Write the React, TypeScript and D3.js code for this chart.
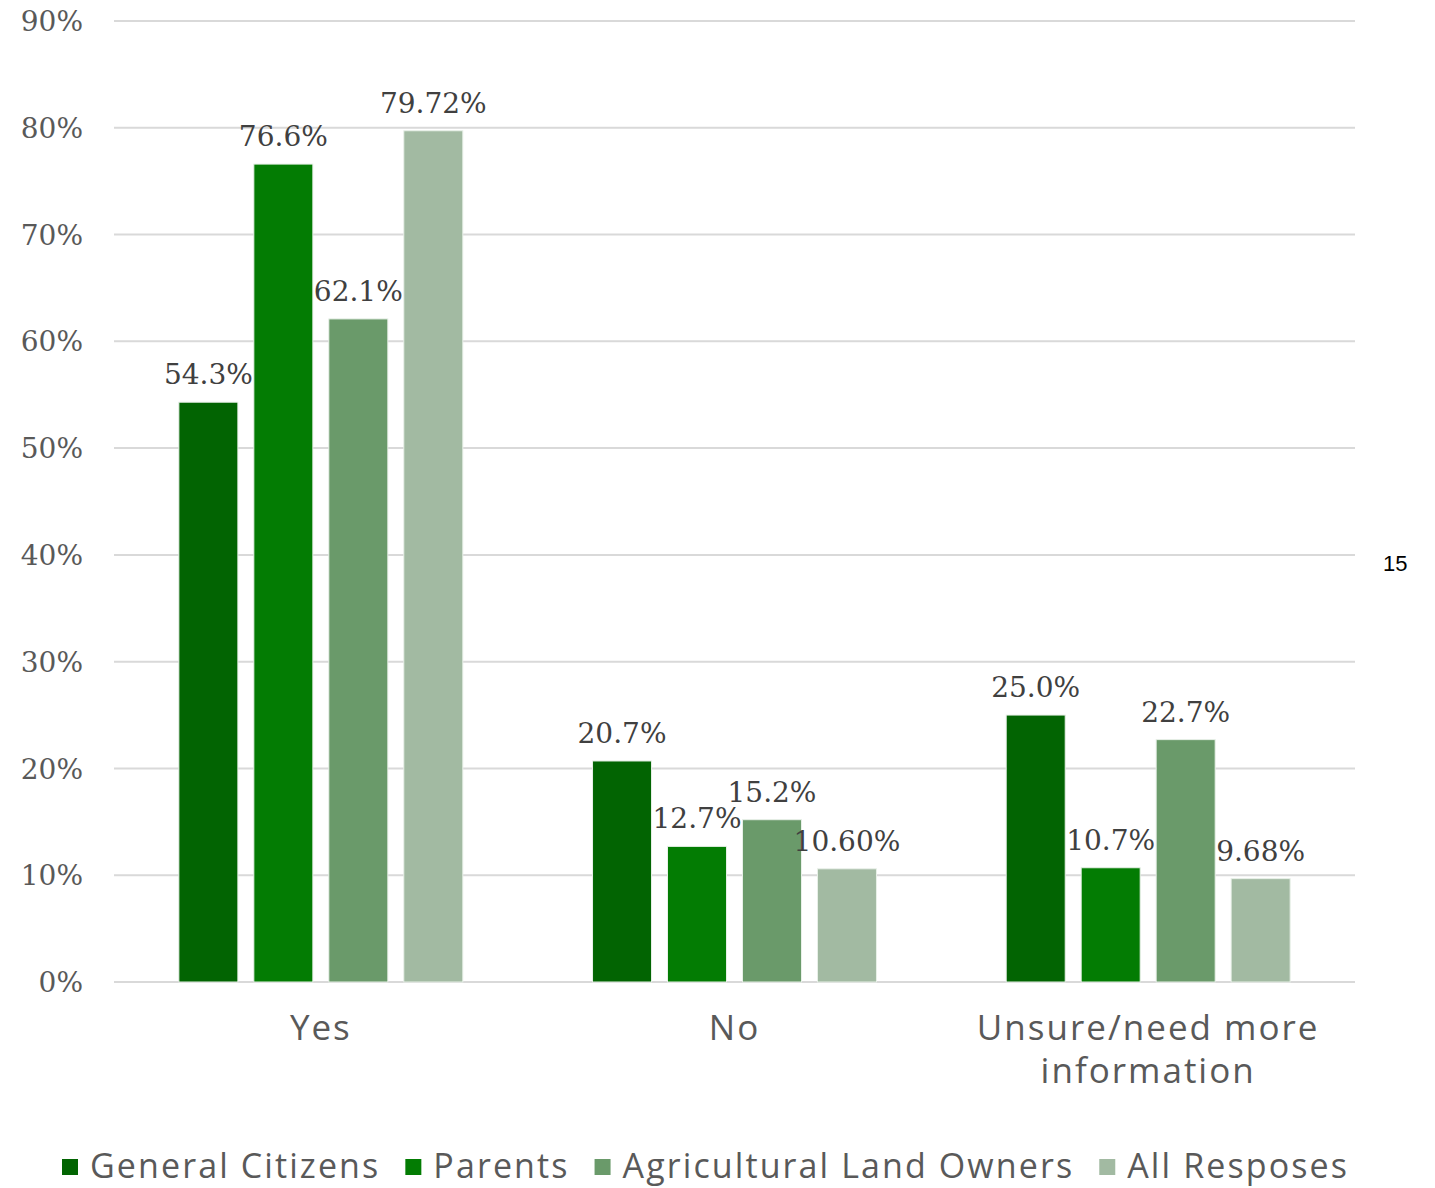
import React, { useEffect, useRef } from "react";
import * as d3 from "d3";

const categories = ["Yes", "No", "Unsure/need more information"];
const categoryLines = [["Yes"], ["No"], ["Unsure/need more", "information"]];
const series = ["General Citizens", "Parents", "Agricultural Land Owners", "All Resposes"];
const colors = ["#026402", "#037C03", "#6A9A6A", "#A2BAA2"];
const generalCitizens = [54.3, 20.7, 25.0];
const parents = [76.6, 12.7, 10.7];
const landOwners = [62.1, 15.2, 22.7];
const allResponses = [79.72, 10.6, 9.68];
const valueLabels = [
  ["54.3%", "20.7%", "25.0%"],
  ["76.6%", "12.7%", "10.7%"],
  ["62.1%", "15.2%", "22.7%"],
  ["79.72%", "10.60%", "9.68%"],
];
const yTicks = [0, 10, 20, 30, 40, 50, 60, 70, 80, 90];

const W = 1435;
const H = 1188;

export default function App() {
  const ref = useRef<SVGSVGElement>(null);
  useEffect(() => {
    const svg = d3.select(ref.current);
    svg.selectAll("*").remove();
    const values = [generalCitizens, parents, landOwners, allResponses];
    const left = 114, right = 1355, top = 21, bottom = 982;
    const y = d3.scaleLinear().domain([0, 90]).range([bottom, top]);
    const x0 = d3.scaleBand<string>().domain(categories).range([left, right]).padding(0);
    const x1 = d3
      .scaleBand<string>()
      .domain(series)
      .range([0, x0.bandwidth()])
      .paddingInner(0.213)
      .paddingOuter(0.865);

    // gridlines
    svg
      .append("g")
      .selectAll("line")
      .data(yTicks)
      .join("line")
      .attr("x1", left)
      .attr("x2", right)
      .attr("y1", (d) => y(d))
      .attr("y2", (d) => y(d))
      .attr("stroke", "#D9D9D9")
      .attr("stroke-width", 2);

    // y labels
    svg
      .append("g")
      .selectAll("text")
      .data(yTicks)
      .join("text")
      .attr("x", 83)
      .attr("y", (d) => y(d))
      .attr("dy", "0.36em")
      .attr("text-anchor", "end")
      .attr("font-family", "'DejaVu Serif', serif")
      .attr("font-size", 28)
      .attr("fill", "#595959")
      .text((d) => `${d}%`);

    // bars
    series.forEach((s, si) => {
      const g = svg.append("g");
      g.selectAll("rect")
        .data(categories)
        .join("rect")
        .attr("x", (c) => (x0(c) as number) + (x1(s) as number))
        .attr("width", x1.bandwidth())
        .attr("y", (_c, ci) => y(values[si][ci]))
        .attr("height", (_c, ci) => bottom - y(values[si][ci]))
        .attr("fill", colors[si])
        .attr("stroke", "#E8F0E8")
        .attr("stroke-width", 1);
      g.selectAll("text")
        .data(categories)
        .join("text")
        .attr("x", (c) => (x0(c) as number) + (x1(s) as number) + x1.bandwidth() / 2)
        .attr("y", (_c, ci) => y(values[si][ci]) - 18)
        .attr("text-anchor", "middle")
        .attr("font-family", "'DejaVu Serif', serif")
        .attr("font-size", 28)
        .attr("fill", "#404040")
        .text((_c, ci) => valueLabels[si][ci]);
    });

    // category labels
    const cg = svg.append("g");
    categories.forEach((c, ci) => {
      const t = cg
        .append("text")
        .attr("x", (x0(c) as number) + x0.bandwidth() / 2)
        .attr("y", 1040)
        .attr("text-anchor", "middle")
        .attr("font-family", "'Open Sans', sans-serif")
        .attr("font-size", 35)
        .attr("letter-spacing", 2)
        .attr("fill", "#595959");
      categoryLines[ci].forEach((line, li) => {
        t.append("tspan")
          .attr("x", (x0(c) as number) + x0.bandwidth() / 2)
          .attr("dy", li === 0 ? 0 : 43)
          .text(line);
      });
    });

    // legend
    const lg = svg.append("g");
    let lx = 62;
    const ly = 1166;
    series.forEach((s, si) => {
      lg.append("rect")
        .attr("x", lx)
        .attr("y", ly - 7)
        .attr("width", 16)
        .attr("height", 16)
        .attr("fill", colors[si]);
      const t = lg
        .append("text")
        .attr("x", lx + 28)
        .attr("y", ly)
        .attr("dy", "0.35em")
        .attr("font-family", "'Open Sans', sans-serif")
        .attr("font-size", 34)
        .attr("letter-spacing", 2.1)
        .attr("fill", "#595959")
        .text(s);
      const w = (t.node() as SVGTextElement).getComputedTextLength();
      lx = lx + 28 + w + 25;
    });

    // page number
    svg
      .append("text")
      .attr("x", 1383)
      .attr("y", 571)
      .attr("font-family", "'Liberation Sans', Arial, sans-serif")
      .attr("font-size", 22)
      .attr("fill", "#000000")
      .text("15");
  }, []);

  return (
    <svg
      ref={ref}
      width={W}
      height={H}
      style={{ position: "absolute", left: 0, top: 0, background: "#FFFFFF" }}
    />
  );
}
